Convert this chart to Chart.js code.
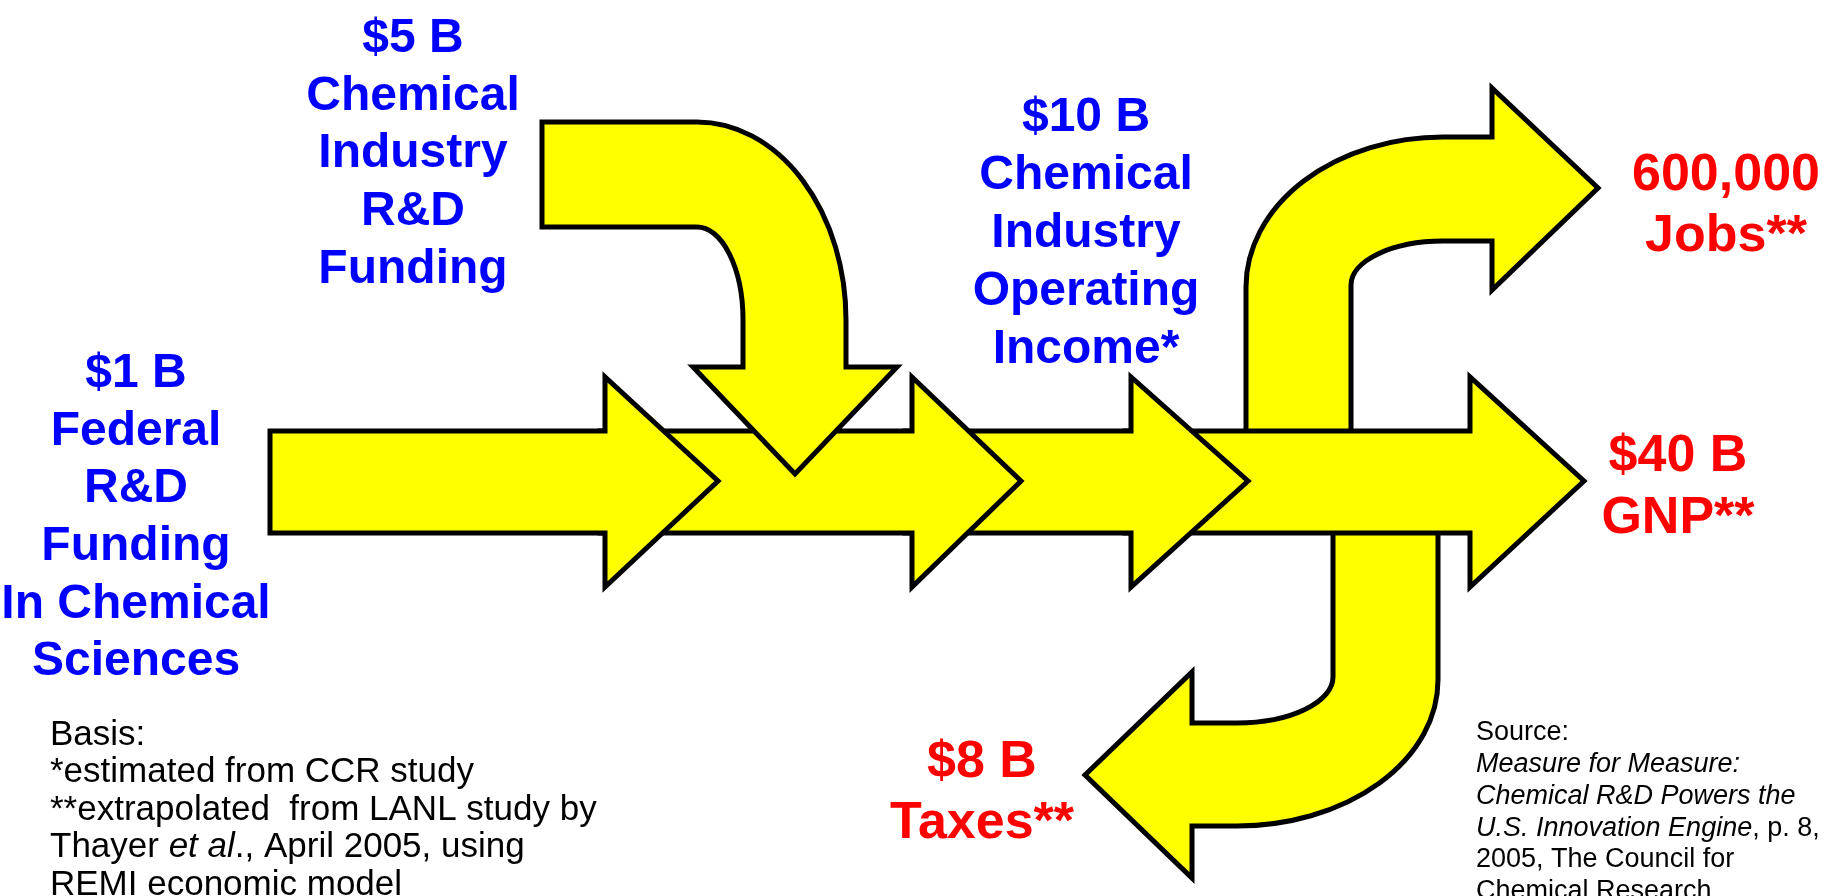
<!DOCTYPE html>
<html>
<head>
<meta charset="utf-8">
<script src="https://cdn.jsdelivr.net/npm/chart.js@4.4.0/dist/chart.umd.min.js"></script>
<style>
  html, body { margin: 0; padding: 0; background: #fff; overflow: hidden; }
  #wrap { width: 1825px; height: 896px; }
</style>
</head>
<body>
<div id="wrap"><canvas id="flow" width="1825" height="896"></canvas></div>
<script>
// main flow stages, left to right (x axis 0..1825, y axis 0..896 top-down)
const stageNames = ['Federal R&D Funding', 'Industry R&D Funding', 'Operating Income', 'GNP'];
const stageTail = [270, 600, 905, 1125];
const stageHeadBack = [605, 912, 1131, 1470];
const stageTip = [718, 1021, 1248, 1584];
const flowAxisY = 482;

// curved arrows as path steps: M/L = point, E = ellipse arc (cx, cy, rx, ry, fromDeg, toDeg, ccw)
const industryInPath = [
    ['M', 542, 122], ['L', 697, 122], ['E', 697, 320, 149, 198, -90, 0, false],
    ['L', 846, 367], ['L', 897, 367], ['L', 795, 474], ['L', 693, 367], ['L', 743, 367],
    ['L', 743, 320], ['E', 697, 320, 46, 93, 0, -90, true], ['L', 542, 227]
];
const jobsOutPath = [
    ['M', 1246, 480], ['L', 1246, 287], ['E', 1443, 287, 197, 150, 180, 270, false],
    ['L', 1492, 137], ['L', 1492, 88], ['L', 1598, 188], ['L', 1492, 290], ['L', 1492, 241],
    ['L', 1443, 241], ['E', 1443, 285, 92, 44, 270, 180, true], ['L', 1351, 480]
];
const taxesOutPath = [
    ['M', 1333, 480], ['L', 1333, 677], ['E', 1237, 677, 96, 46, 0, 90, false],
    ['L', 1192, 723], ['L', 1192, 672], ['L', 1085, 775], ['L', 1192, 878], ['L', 1192, 826],
    ['L', 1237, 826], ['E', 1237, 680, 201, 146, 90, 0, true], ['L', 1438, 480]
];

// value labels
const labelLines = [
    ['$1 B', 'Federal', 'R&D', 'Funding', 'In Chemical', 'Sciences'],
    ['$5 B', 'Chemical', 'Industry', 'R&D', 'Funding'],
    ['$10 B', 'Chemical', 'Industry', 'Operating', 'Income*'],
    ['600,000', 'Jobs**'],
    ['$40 B', 'GNP**'],
    ['$8 B', 'Taxes**']
];
const labelX = [136, 413, 1086, 1726, 1678, 982];
const labelY = [374, 39, 118, 176, 457, 763];
const labelStep = [57.6, 57.6, 58, 61, 62, 61];
const labelColor = ['#0000ff', '#0000ff', '#0000ff', '#ff0000', '#ff0000', '#ff0000'];
const labelSize = [48, 48, 48, 52, 52, 52];

// notes: runs of [text, italic]
const basisLines = [
    [['Basis:', 0]],
    [['*estimated from CCR study', 0]],
    [['**extrapolated  from LANL study by', 0]],
    [['Thayer ', 0], ['et al', 1], ['., April 2005, using', 0]],
    [['REMI economic model', 0]]
];
const sourceLines = [
    [['Source:', 0]],
    [['Measure for Measure:', 1]],
    [['Chemical R&D Powers the', 1]],
    [['U.S. Innovation Engine', 1], [', p. 8,', 0]],
    [['2005, The Council for', 0]],
    [['Chemical Research', 0]]
];

const FONT = '"Liberation Sans", Arial, Helvetica, sans-serif';
const YELLOW = '#ffff00';

function stageOutline(i) {
    const bh = 51, hh = 105;
    const t = stageTail[i], b = stageHeadBack[i], p = stageTip[i], c = flowAxisY;
    return [
        {x: t, y: c}, {x: t, y: c - bh}, {x: b, y: c - bh}, {x: b, y: c - hh},
        {x: p, y: c - 1}, {x: b, y: c + hh}, {x: b, y: c + bh}, {x: t, y: c + bh}, {x: t, y: c}
    ];
}

function tracePath(chart, cmds) {
    const ctx = chart.ctx, xs = chart.scales.x, ys = chart.scales.y;
    ctx.beginPath();
    cmds.forEach((c) => {
        const px = xs.getPixelForValue(c[1]);
        const py = ys.getPixelForValue(c[2]);
        if (c[0] === 'M') ctx.moveTo(px, py);
        else if (c[0] === 'L') ctx.lineTo(px, py);
        else {
            const rx = Math.abs(xs.getPixelForValue(c[1] + c[3]) - px);
            const ry = Math.abs(ys.getPixelForValue(c[2] + c[4]) - py);
            ctx.ellipse(px, py, rx, ry, 0, c[5] * Math.PI / 180, c[6] * Math.PI / 180, c[7]);
        }
    });
    ctx.closePath();
}

function drawArrow(chart, cmds) {
    const ctx = chart.ctx;
    ctx.save();
    tracePath(chart, cmds);
    ctx.fillStyle = YELLOW;
    ctx.fill();
    ctx.lineWidth = 5;
    ctx.lineJoin = 'miter';
    ctx.strokeStyle = '#000';
    ctx.stroke();
    ctx.restore();
}

function drawNotes(chart, lines, x0, y0, step, size) {
    const ctx = chart.ctx, xs = chart.scales.x, ys = chart.scales.y;
    ctx.save();
    ctx.fillStyle = '#000';
    ctx.textBaseline = 'middle';
    ctx.textAlign = 'left';
    lines.forEach((runs, li) => {
        let x = xs.getPixelForValue(x0);
        const y = ys.getPixelForValue(y0 + li * step);
        runs.forEach(([txt, it]) => {
            ctx.font = (it ? 'italic ' : '') + size + 'px ' + FONT;
            ctx.fillText(txt, x, y);
            x += ctx.measureText(txt).width;
        });
    });
    ctx.restore();
}

const flowArrows = {
    id: 'flowArrows',
    beforeDatasetsDraw(chart) {
        drawArrow(chart, jobsOutPath);
        drawArrow(chart, taxesOutPath);
    },
    afterDatasetDraw(chart, args) {
        if (args.index === 1) drawArrow(chart, industryInPath);
    },
    afterDraw(chart) {
        const ctx = chart.ctx, xs = chart.scales.x, ys = chart.scales.y;
        ctx.save();
        ctx.textAlign = 'center';
        ctx.textBaseline = 'middle';
        labelLines.forEach((lines, i) => {
            ctx.font = 'bold ' + labelSize[i] + 'px ' + FONT;
            ctx.fillStyle = labelColor[i];
            lines.forEach((txt, j) => {
                ctx.fillText(txt, xs.getPixelForValue(labelX[i]), ys.getPixelForValue(labelY[i] + j * labelStep[i]));
            });
        });
        ctx.restore();
        drawNotes(chart, basisLines, 50, 735, 37.5, 35);
        drawNotes(chart, sourceLines, 1476, 733, 31.7, 27);
    }
};

new Chart(document.getElementById('flow'), {
    type: 'scatter',
    data: {
        datasets: stageNames.map((name, i) => ({
            label: name,
            data: stageOutline(i),
            showLine: true,
            fill: 'shape',
            backgroundColor: YELLOW,
            borderColor: '#000',
            borderWidth: 5,
            borderJoinStyle: 'miter',
            pointRadius: 0,
            pointHoverRadius: 0,
            tension: 0,
            order: i + 1
        }))
    },
    options: {
        responsive: false,
        animation: false,
        devicePixelRatio: 1,
        layout: { padding: 0 },
        scales: {
            x: { type: 'linear', min: 0, max: 1825, display: false },
            y: { type: 'linear', min: 0, max: 896, reverse: true, display: false }
        },
        plugins: {
            legend: { display: false },
            tooltip: { enabled: false }
        },
        events: []
    },
    plugins: [flowArrows]
});
</script>
</body>
</html>
